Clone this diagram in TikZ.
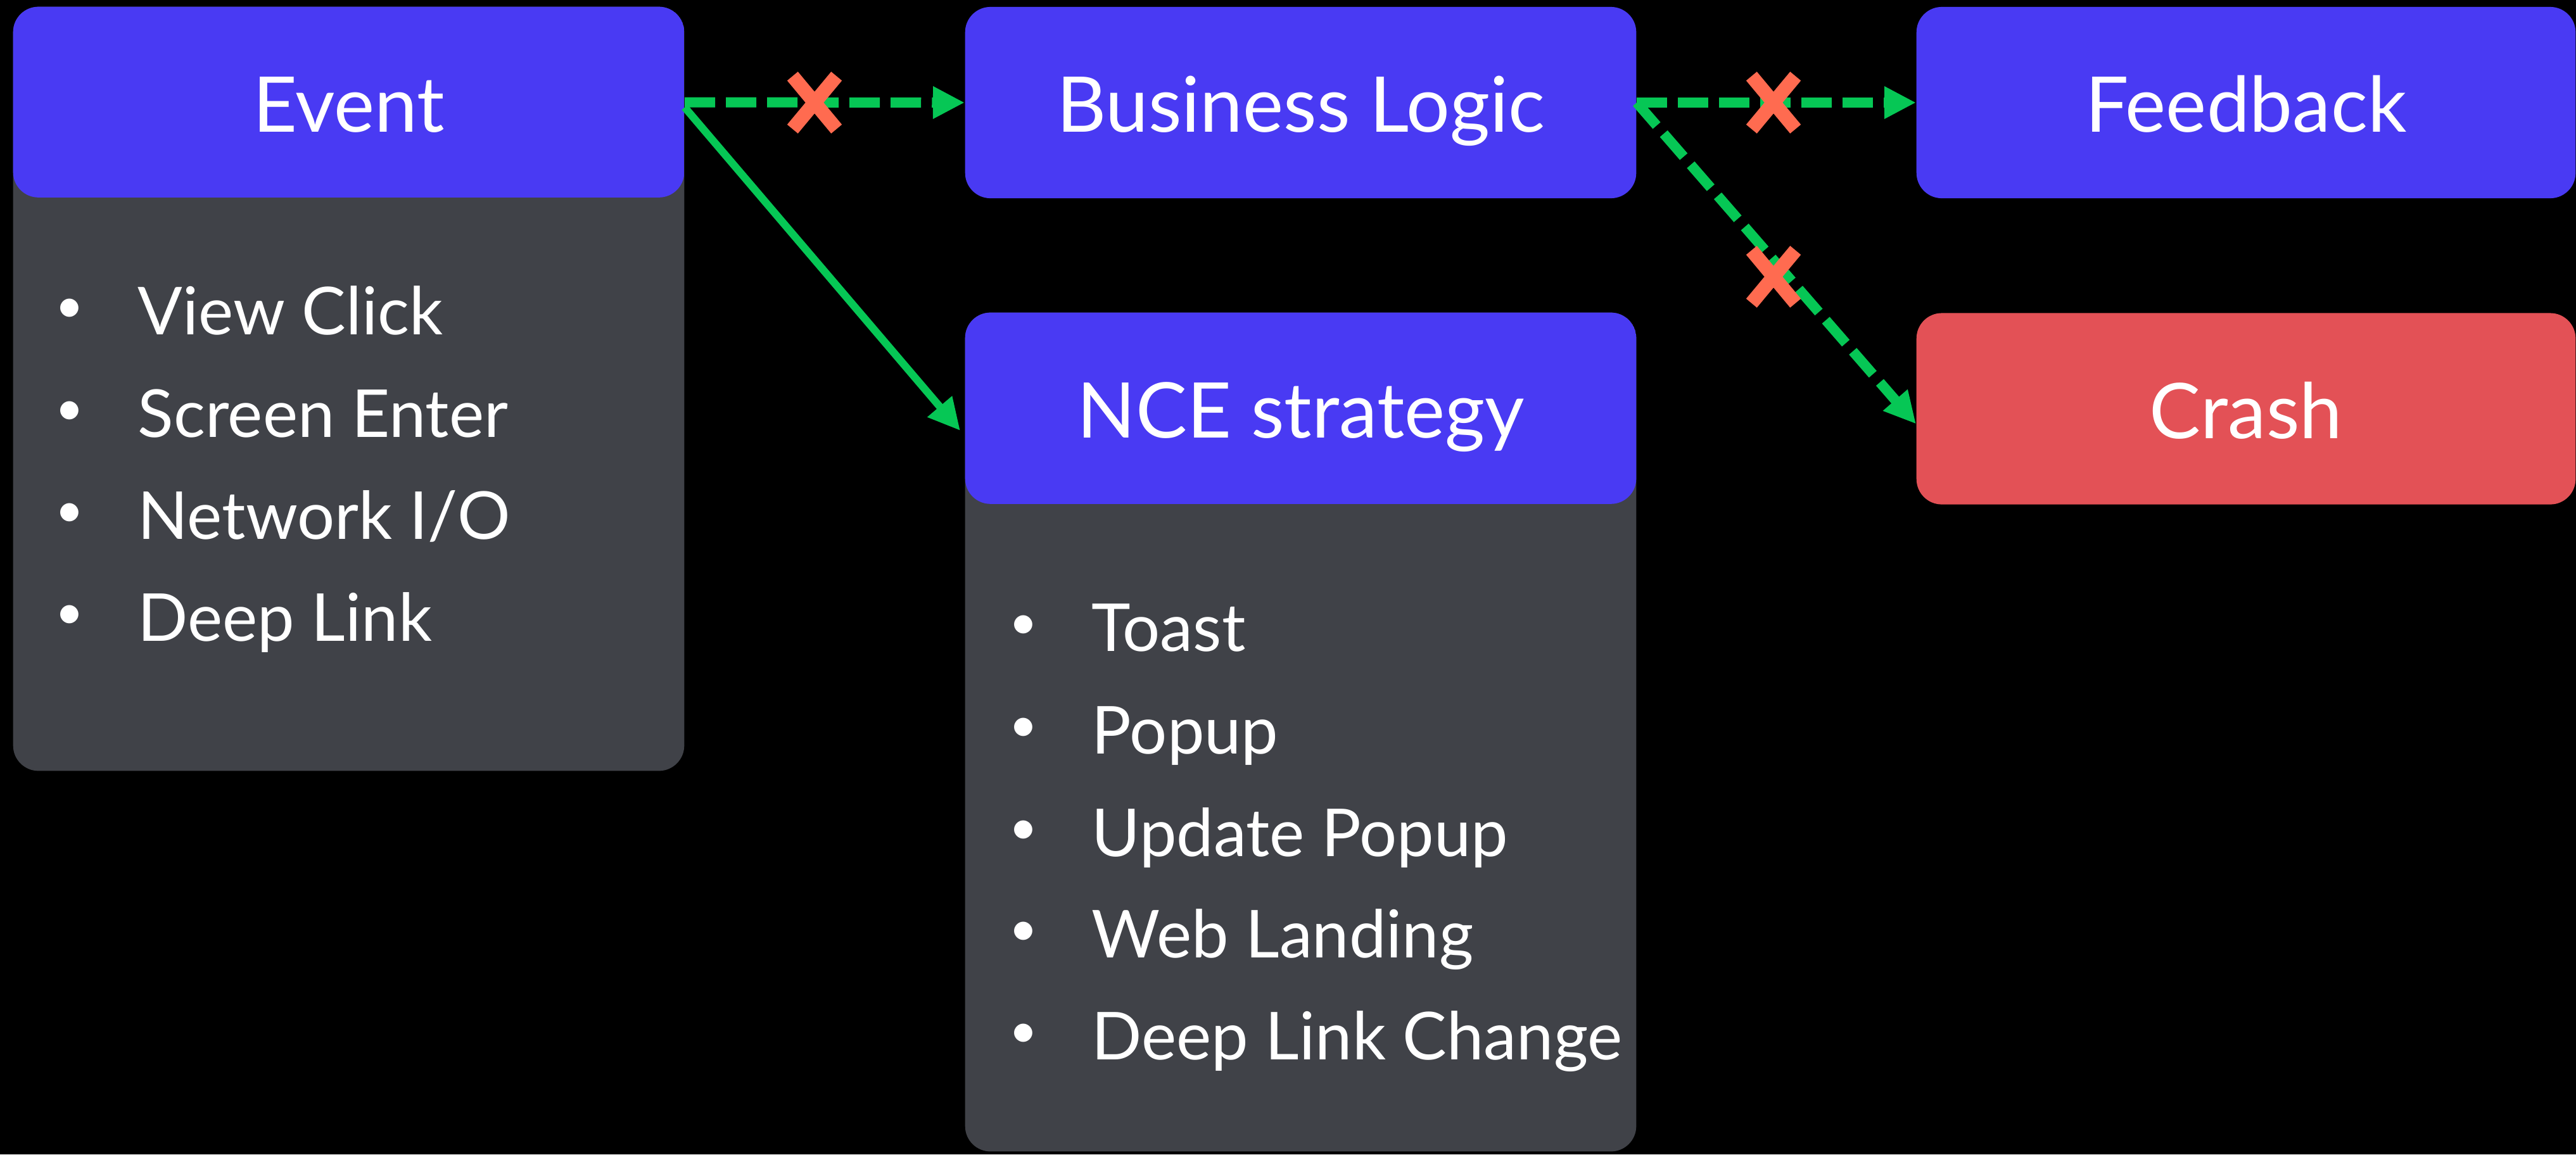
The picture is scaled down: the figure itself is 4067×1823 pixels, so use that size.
\documentclass[tikz,border=0pt]{standalone}
\usepackage{fontspec}
\setmainfont{Lato}
\usetikzlibrary{arrows.meta}
\definecolor{hdrblue}{RGB}{73,58,243}
\definecolor{bodygray}{RGB}{64,66,72}
\definecolor{crashred}{RGB}{227,81,86}
\definecolor{flowgreen}{RGB}{6,199,85}
\definecolor{xcoral}{RGB}{255,107,80}
\newcommand\bul{\llap{\makebox[2.16cm][c]{\raisebox{0.19cm}{\fontsize{22}{22}\selectfont •}}}}
\begin{document}
\begin{tikzpicture}[x=0.01cm,y=-0.01cm,
  panel/.style={rectangle, rounded corners=0.4cm, inner sep=0pt, draw=none},
  hdr/.style={rectangle, inner sep=0pt, minimum height=3.02cm, text height=0.93cm, text depth=0pt, text=white, font=\fontsize{34.5}{40}\selectfont},
  item/.style={anchor=base west, inner sep=0pt, text=white, font=\fontsize{29.7}{40}\selectfont},
  flow/.style={draw=flowgreen, line width=0.12cm, -{Triangle[length=0.5cm,width=0.48cm]}},
  blocked/.style={flow, line width=0.16cm, dash pattern=on 0.48cm off 0.17cm},
  xmark/.style={rectangle, inner sep=0pt, minimum width=0.68cm, minimum height=0.82cm},
  xstroke/.style={draw=xcoral, line width=0.22cm}
]
\fill[black] (0,0) rectangle (4067,1823);
\useasboundingbox (0,0) rectangle (4067,1823);

% Event panel
\node[panel, fill=bodygray, minimum width=10.59cm, minimum height=12.06cm,
  path picture={\fill[hdrblue] (path picture bounding box.north west) rectangle ([yshift=-3.01cm]path picture bounding box.north east);}]
  (evtbox) at (550.5,614) {};
\node[hdr, minimum width=10.59cm] (evthdr) at (550.5,161.5) {Event};
\node[item] (e1) at (217,528) {\bul View Click};
\node[item] (e2) at (217,690) {\bul Screen Enter};
\node[item] (e3) at (217,851) {\bul Network I/O};
\node[item] (e4) at (217,1012) {\bul Deep Link};

% Business Logic
\node[hdr, panel, fill=hdrblue, minimum width=10.59cm] (blhdr) at (2053.5,162) {Business Logic};

% NCE strategy panel
\node[panel, fill=bodygray, minimum width=10.59cm, minimum height=13.24cm,
  path picture={\fill[hdrblue] (path picture bounding box.north west) rectangle ([yshift=-3.02cm]path picture bounding box.north east);}]
  (ncebox) at (2053.5,1156) {};
\node[hdr, minimum width=10.59cm] (ncehdr) at (2053.5,645) {NCE strategy};
\node[item] (n1) at (1723,1028) {\bul Toast};
\node[item] (n2) at (1723,1190) {\bul Popup};
\node[item] (n3) at (1723,1352) {\bul Update Popup};
\node[item] (n4) at (1723,1512) {\bul Web Landing};
\node[item] (n5) at (1723,1673) {\bul Deep Link Change};

% Feedback and Crash
\node[hdr, panel, fill=hdrblue, minimum width=10.40cm] (fbhdr) at (3546,162) {Feedback};
\node[hdr, panel, fill=crashred, minimum width=10.40cm] (crash) at (3546,645.5) {Crash};

% connectors
\draw[blocked] (evthdr.east) -- (blhdr.west);
\draw[flow] ([yshift=-0.08cm]evthdr.east) -- ([yshift=-0.35cm,xshift=-0.07cm]ncehdr.west);
\draw[blocked] (blhdr.east) -- (fbhdr.west);
\draw[blocked] (blhdr.east) -- ([yshift=-0.24cm]crash.west);

% blocked marks
\node[xmark] (xa) at (1286,162) {};
\node[xmark] (xb) at (2800,162) {};
\node[xmark] (xc) at (2800,437) {};
\foreach \m in {xa,xb,xc}{
  \draw[xstroke] (\m.north west) -- (\m.south east) (\m.south west) -- (\m.north east);
}
\end{tikzpicture}
\end{document}
